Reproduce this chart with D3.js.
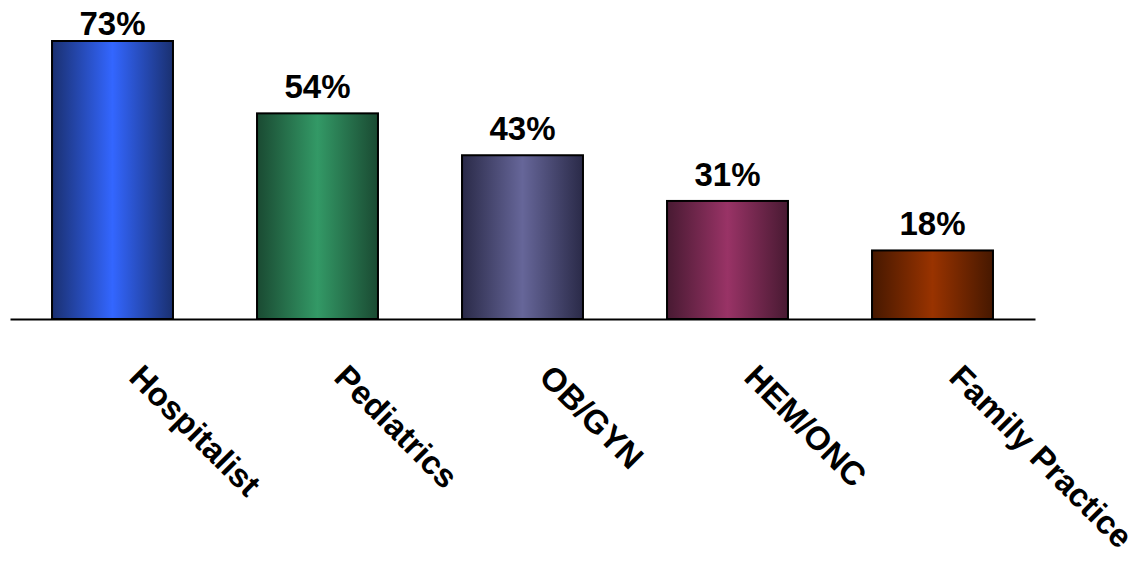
<!DOCTYPE html>
<html>
<head>
<meta charset="utf-8">
<script src="https://cdn.jsdelivr.net/npm/d3@7"></script>
<style>
  html, body { margin: 0; padding: 0; background: #fff; }
  svg { display: block; }
  text { font-family: "Liberation Sans", Arial, Helvetica, sans-serif; font-weight: bold; fill: #000; }
</style>
</head>
<body>
<svg id="chart" width="1140" height="561"></svg>
<script>
const categories = ["Hospitalist", "Pediatrics", "OB/GYN", "HEM/ONC", "Family Practice"];
const values = [73, 54, 43, 31, 18];
const valueLabels = ["73%", "54%", "43%", "31%", "18%"];
const lightColors = ["#3366FF", "#339966", "#666699", "#993366", "#993300"];
const darkColors = ["#1A3070", "#1A4A32", "#2A2A48", "#481A32", "#461800"];

const svg = d3.select("#chart");
const baseY = 319;

const x = d3.scaleBand().domain(categories).range([10, 1035]).paddingInner(0.41).paddingOuter(0.205);
const y = d3.scaleLinear().domain([0, 73]).range([baseY, 41]);

const defs = svg.append("defs");
categories.forEach((c, i) => {
  const g = defs.append("linearGradient").attr("id", "g" + i)
    .attr("x1", "0%").attr("x2", "100%").attr("y1", "0%").attr("y2", "0%");
  g.append("stop").attr("offset", "0%").attr("stop-color", darkColors[i]);
  g.append("stop").attr("offset", "50%").attr("stop-color", lightColors[i]);
  g.append("stop").attr("offset", "100%").attr("stop-color", darkColors[i]);
});

const data = categories.map((c, i) => ({ c, v: values[i], label: valueLabels[i], i }));

svg.selectAll("rect.bar").data(data).enter().append("rect")
  .attr("class", "bar")
  .attr("x", d => x(d.c))
  .attr("y", d => y(d.v))
  .attr("width", x.bandwidth())
  .attr("height", d => baseY - y(d.v))
  .attr("fill", d => "url(#g" + d.i + ")")
  .attr("stroke", "#000")
  .attr("stroke-width", 2);

// axis line
const axis = d3.axisBottom(x).tickSize(0).tickFormat("");
const axG = svg.append("g").attr("transform", `translate(0,${baseY})`).call(axis);
axG.select(".domain").attr("stroke", "#000").attr("stroke-width", 2);

// value labels
svg.selectAll("text.val").data(data).enter().append("text")
  .attr("class", "val")
  .attr("x", d => x(d.c) + x.bandwidth() / 2)
  .attr("y", d => Math.max(y(d.v) - 15, 35))
  .attr("text-anchor", "middle")
  .style("font-size", "33px")
  .text(d => d.label);

// category labels rotated
svg.selectAll("text.cat").data(data).enter().append("text")
  .attr("class", "cat")
  .attr("transform", d => `translate(${x(d.c) + x.bandwidth() / 2 + 15},${baseY + 60}) rotate(45)`)
  .attr("text-anchor", "start")
  .style("font-size", "33px")
  .text(d => d.c);
</script>
</body>
</html>
